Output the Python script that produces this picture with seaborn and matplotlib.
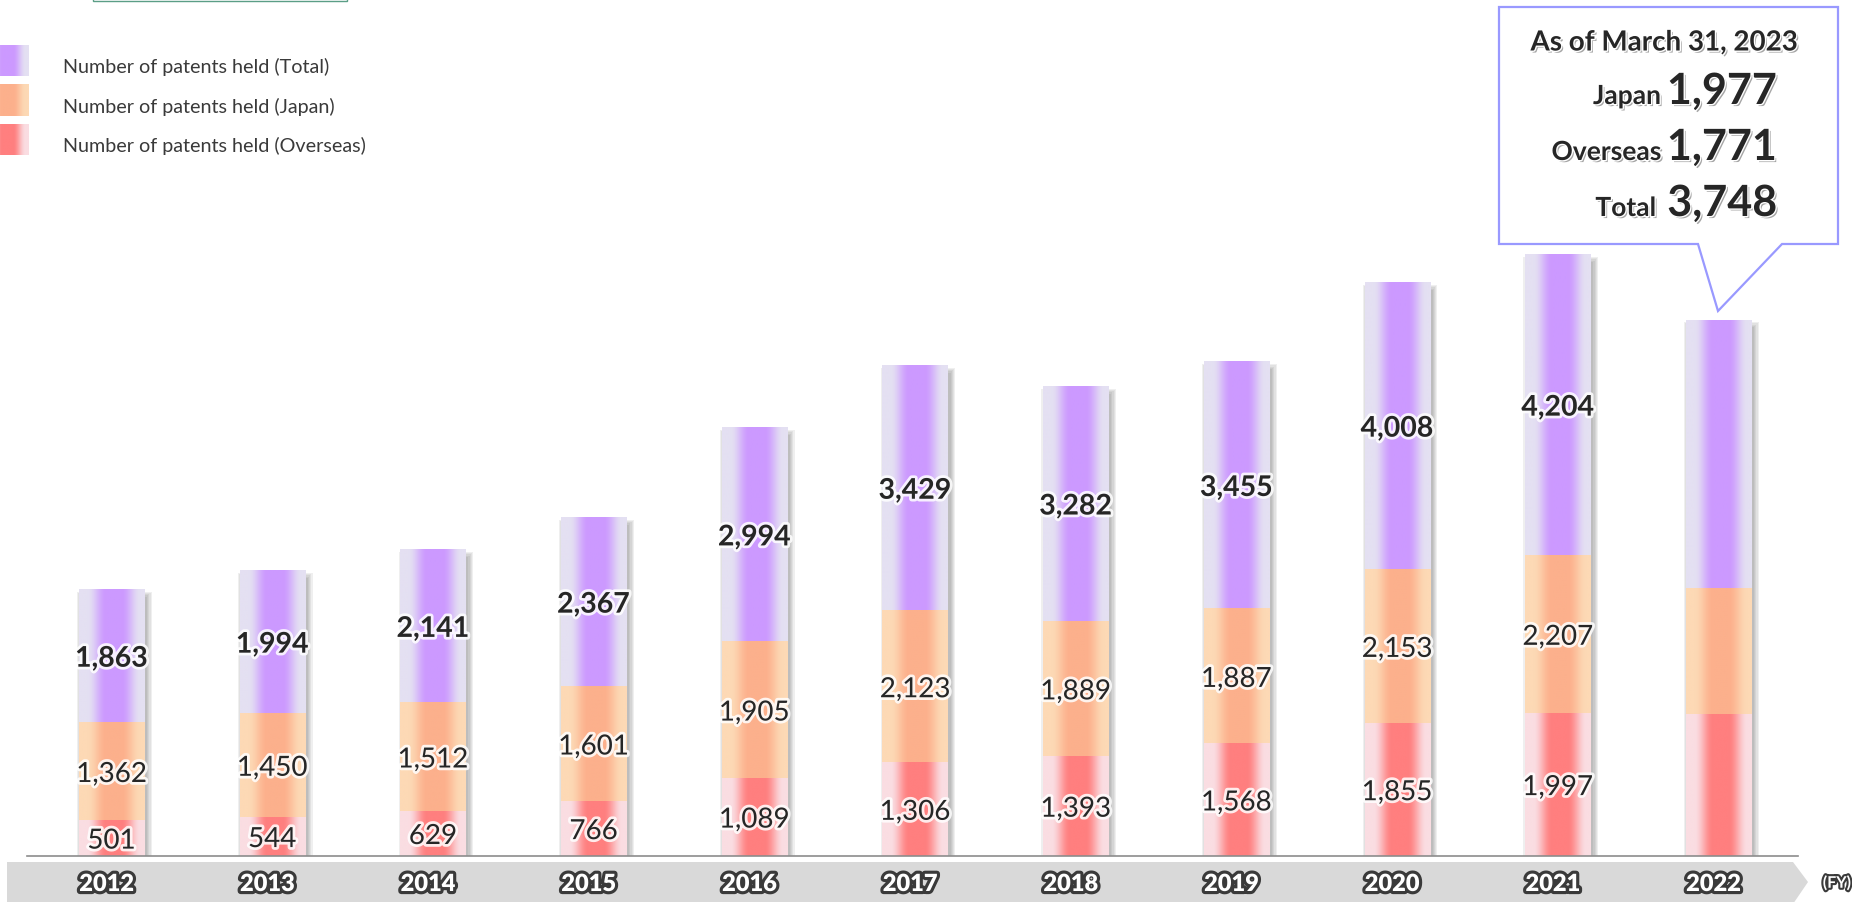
import numpy as np
import pandas as pd
import matplotlib
matplotlib.use("Agg")
import matplotlib.pyplot as plt
import seaborn as sns
from matplotlib import patheffects as pe
from matplotlib.patches import Rectangle, Polygon
from matplotlib.transforms import blended_transform_factory

# ---------------- data ----------------
years = ["2012", "2013", "2014", "2015", "2016", "2017", "2018", "2019", "2020", "2021", "2022"]
# segment heights as drawn in the picture (2022 bar drawn with the larger value at the bottom)
overseas = [501, 544, 629, 766, 1089, 1306, 1393, 1568, 1855, 1997, 1977]
japan = [1362, 1450, 1512, 1601, 1905, 2123, 1889, 1887, 2153, 2207, 1771]
total = [1863, 1994, 2141, 2367, 2994, 3429, 3282, 3455, 4008, 4204, 3748]
labelled = [True] * 10 + [False]

legend_labels = ["Number of patents held (Total)", "Number of patents held (Japan)",
                 "Number of patents held (Overseas)"]
callout_title = "As of March 31, 2023"
callout_names = ["Japan", "Overseas", "Total"]
callout_values = [1977, 1771, 3748]
fy_label = "(FY)"

# ---------------- style ----------------
sns.set_theme(style="white")
plt.rcParams["font.family"] = ["Lato", "DejaVu Sans"]

W, H = 1852, 903
fig = plt.figure(figsize=(W / 100, H / 100), dpi=100)
fig.patch.set_facecolor("white")

PURPLE = ("#E4E0F2", "#CC99FF")
ORANGE = ("#FDD9B5", "#FCB08C")
RED = ("#FADDE2", "#FF7F7F")
TXT = "#262626"


def gradient(light, dark, n=256):
    t = np.linspace(0, 1, n)
    d = np.abs(t - 0.53)
    w = np.clip((0.40 - d) / 0.28, 0, 1)
    w = w * w * (3 - 2 * w)
    lc = np.array(matplotlib.colors.to_rgb(light))
    dc = np.array(matplotlib.colors.to_rgb(dark))
    img = lc[None, :] * (1 - w[:, None]) + dc[None, :] * w[:, None]
    return img[None, :, :]


# background layer (pixel coordinates)
bg = fig.add_axes([0, 0, 1, 1], zorder=0)
bg.set_xlim(0, W)
bg.set_ylim(H, 0)
bg.axis("off")
bg.add_patch(Polygon([(7, 863), (1793, 863), (1808, 883), (1793, 905), (7, 905)],
                     closed=True, facecolor="#D9D9D9", edgecolor="none"))

# main chart axes
ax = fig.add_axes([27 / W, (H - 857) / H, (1798 - 27) / W, 857 / H], zorder=1)
ax.set_facecolor("none")

df = pd.DataFrame({"year": years, "overseas": overseas, "japan": japan, "total": total})
df["cum_jp"] = df["overseas"] + df["japan"]
df["cum_tot"] = df["cum_jp"] + df["total"]

BW = 0.405
sns.barplot(data=df, x="year", y="cum_tot", color=PURPLE[1], width=BW, saturation=1, ax=ax)
sns.barplot(data=df, x="year", y="cum_jp", color=ORANGE[1], width=BW, saturation=1, ax=ax)
sns.barplot(data=df, x="year", y="overseas", color=RED[1], width=BW, saturation=1, ax=ax)

XL = (-0.526, 10.495)
YL = (0, 11986)
ax.set_xlim(*XL)
ax.set_ylim(*YL)

# pixel -> data conversions
ax_w_px = (1798 - 27)
ax_h_px = 857
px_x = (XL[1] - XL[0]) / ax_w_px
px_y = (YL[1] - YL[0]) / ax_h_px

patches = list(ax.patches)
n = len(years)
groups = [(patches[0:n], PURPLE, 3), (patches[n:2 * n], ORANGE, 4), (patches[2 * n:3 * n], RED, 5)]

# soft drop shadows behind the full bars
for p in patches[0:n]:
    x0, w, h = p.get_x(), p.get_width(), p.get_height()
    for k in range(5):
        e = (4 - k) * 1.2
        ax.add_patch(Rectangle((x0 + (3 - e) * px_x, (-3 - e) * px_y),
                               w + (2 * e) * px_x, h + (-4 + 2 * e) * px_y,
                               facecolor="#555555", edgecolor="none", alpha=0.09, zorder=1))

for plist, cols, z in groups:
    img = gradient(*cols)
    for p in plist:
        x0, y0, w, h = p.get_x(), p.get_y(), p.get_width(), p.get_height()
        ax.imshow(img, extent=(x0, x0 + w, y0, y0 + h), aspect="auto", zorder=z,
                  interpolation="bilinear")
        p.set_visible(False)

ax.set_xlim(*XL)
ax.set_ylim(*YL)
ax.set_xticks([])
ax.set_yticks([])
ax.set_xlabel("")
ax.set_ylabel("")
for s in ["top", "right", "left"]:
    ax.spines[s].set_visible(False)
ax.spines["bottom"].set_color("#8C8C8C")
ax.spines["bottom"].set_linewidth(1.2)
ax.spines["bottom"].set_zorder(6)

glow = [pe.withStroke(linewidth=4, foreground="white", alpha=0.85)]
for i in range(n):
    if not labelled[i]:
        continue
    ov_v, jp_v, tt_v = overseas[i], japan[i], total[i]
    ax.text(i, ov_v / 2, f"{ov_v:,}", ha="center", va="center_baseline", fontsize=20,
            color=TXT, path_effects=glow, zorder=10)
    ax.text(i, ov_v + jp_v / 2, f"{jp_v:,}", ha="center", va="center_baseline", fontsize=20,
            color=TXT, path_effects=glow, zorder=10)
    ax.text(i, ov_v + jp_v + tt_v / 2, f"{tt_v:,}", ha="center", va="center_baseline",
            fontsize=20.5, fontweight="bold", color=TXT, path_effects=glow, zorder=10)

# overlay layer (pixel coordinates)
ov = fig.add_axes([0, 0, 1, 1], zorder=3)
ov.set_facecolor("none")
ov.set_xlim(0, W)
ov.set_ylim(H, 0)
ov.axis("off")

# year labels inside the grey band
year_tr = blended_transform_factory(ax.transData, ov.transData)
outline = [pe.Stroke(linewidth=4.5, foreground="#3A3A3A"), pe.Normal()]
for i, y in enumerate(years):
    ax.text(i - 0.03, 883, y, transform=year_tr, ha="center", va="center_baseline",
            fontsize=17, fontweight="heavy", color="white", path_effects=outline,
            clip_on=False, zorder=10)
ov.text(1837, 883, fy_label, ha="center", va="center_baseline", fontsize=11.5, fontweight="bold",
        color="white", path_effects=[pe.Stroke(linewidth=3, foreground="#3A3A3A"), pe.Normal()])

# legend
ov.add_patch(Rectangle((93, -6), 254, 7.5, facecolor="none", edgecolor="#5B9E86", lw=1))
sw = [(46, 77), (85, 117), (125, 156)]
base = [73, 112.5, 152]
for (t0, t1), cols, lab, b in zip(sw, [PURPLE, ORANGE, RED], legend_labels, base):
    ov.imshow(gradient(*cols), extent=(-16, 29, t1, t0), aspect="auto", interpolation="bilinear")
    ov.text(63, b, lab, ha="left", va="baseline", fontsize=14.2, color="#3A3A3A")

# callout
ov.add_patch(Polygon([(1499, 8), (1838, 8), (1838, 245), (1782, 245), (1718, 312),
                      (1698, 245), (1499, 245)], closed=True, facecolor="white",
                     edgecolor="#9999FF", lw=1.6))
shadow = [pe.SimplePatchShadow(offset=(1.5, -1.5), shadow_rgbFace="#808080", alpha=0.7),
          pe.Stroke(linewidth=2, foreground="white"), pe.Normal()]
ov.text(1664, 51.5, callout_title, ha="center", va="baseline", fontsize=20, fontweight="bold",
        color=TXT, path_effects=shadow)
for name, val, b, rx in zip(callout_names, callout_values, [105, 161, 217], [1661, 1661, 1656]):
    ov.text(rx, b, name, ha="right", va="baseline", fontsize=19, fontweight="bold", color=TXT,
            path_effects=shadow)
    ov.text(1777, b, f"{val:,}", ha="right", va="baseline", fontsize=31, fontweight="bold",
            color=TXT, path_effects=shadow)

ov.set_xlim(0, W)
ov.set_ylim(H, 0)

fig.savefig("out.png", dpi=100, facecolor="white")
